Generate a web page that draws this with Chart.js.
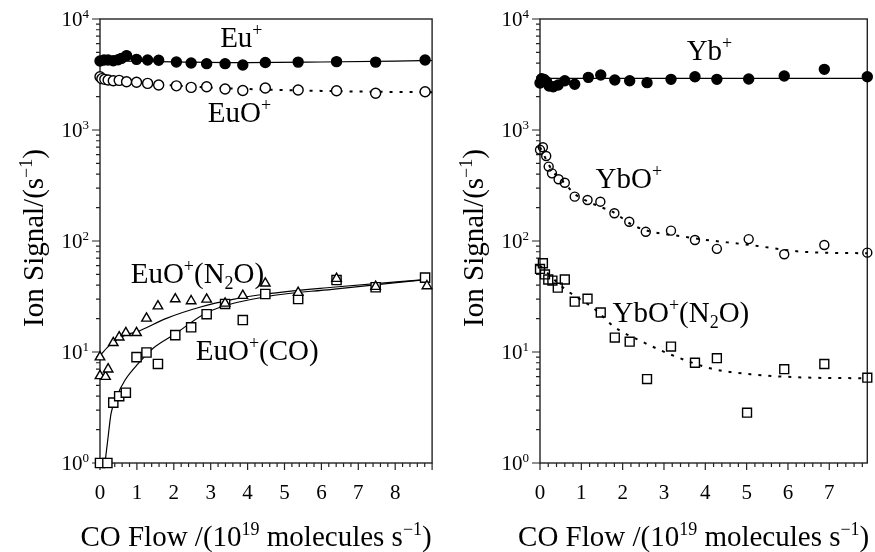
<!DOCTYPE html>
<html>
<head>
<meta charset="utf-8">
<script src="https://cdn.jsdelivr.net/npm/chart.js@4.4.0/dist/chart.umd.min.js"></script>
<style>
  html, body { margin: 0; padding: 0; background: #fff; }
  #wrap { position: relative; width: 875px; height: 552px; overflow: hidden; }
  canvas { position: absolute; top: 0; }
  #left { left: 0; }
  #right { left: 440px; }
</style>
</head>
<body>
<div id="wrap">
  <canvas id="left" width="440" height="552"></canvas>
  <canvas id="right" width="435" height="552"></canvas>
</div>
<script>
// ---- left panel (Eu) ----
const euX = [0, 0.11, 0.22, 0.36, 0.49, 0.58, 0.72, 0.99, 1.29, 1.59, 2.07, 2.47, 2.89, 3.39, 3.87, 4.48, 5.37, 6.41, 7.47, 8.81];
const euPlus = [4190, 4270, 4270, 4210, 4300, 4420, 4680, 4330, 4270, 4250, 4100, 4020, 3960, 3960, 3850, 4050, 4090, 4130, 4090, 4270];
const euOX = [0, 0.05, 0.13, 0.22, 0.36, 0.52, 0.72, 0.99, 1.29, 1.59, 2.07, 2.47, 2.89, 3.39, 3.87, 4.48, 5.37, 6.41, 7.47, 8.81];
const euO = [3020, 2900, 2860, 2820, 2780, 2800, 2720, 2690, 2630, 2540, 2500, 2420, 2450, 2340, 2270, 2390, 2290, 2260, 2140, 2210];
const euN2OX = [0, 0, 0.15, 0.22, 0.36, 0.52, 0.70, 0.99, 1.26, 1.57, 2.04, 2.47, 2.89, 3.39, 3.87, 4.48, 5.37, 6.41, 7.47, 8.86];
const euON2O = [9.0, 6.1, 6.0, 7.0, 12.1, 13.6, 14.9, 14.9, 20.1, 25.9, 30.0, 28.8, 29.8, 27.4, 32.2, 41.6, 34.3, 45.8, 38.8, 39.3];
const euCOX = [0, 0.2, 0.36, 0.52, 0.70, 0.99, 1.26, 1.57, 2.04, 2.47, 2.89, 3.39, 3.87, 4.48, 5.37, 6.41, 7.47, 8.81];
const euOCO = [1, 1, 3.5, 4.0, 4.3, 9.0, 9.9, 7.8, 14.2, 16.7, 21.9, 27.1, 19.4, 33.3, 30.0, 44.5, 38.3, 46.8];

// fitted curves
const euFitX = [0, 2, 4, 6, 8, 9];
const euFit = [4200, 4110, 4050, 4100, 4180, 4230];
const euOFitX = [0, 1, 2, 3, 4, 5, 6, 7, 8, 9];
const euOFit = [2900, 2680, 2520, 2410, 2340, 2290, 2250, 2220, 2200, 2190];
const n2oFitX = [0, 0.27, 0.68, 1.0, 1.8, 2.7, 3.6, 4.5, 6.3, 8.9];
const n2oFit = [9.3, 11.6, 14.2, 15.2, 20.1, 25.3, 29.8, 33.3, 38.3, 45.2];
const coFitX = [0.135, 0.21, 0.30, 0.45, 0.68, 1.04, 1.44, 2.03, 2.89, 4.5, 6.29, 8.9];
const coFit = [1.0, 1.61, 2.8, 3.96, 5.6, 7.9, 10.8, 14.5, 22.6, 31.5, 36.7, 45.2];

// ---- right panel (Yb) ----
const ybX = [0, 0.04, 0.10, 0.16, 0.22, 0.32, 0.44, 0.60, 0.84, 1.17, 1.47, 1.81, 2.17, 2.59, 3.17, 3.75, 4.28, 5.05, 5.91, 6.88, 7.92];
const ybPlus = [2650, 2900, 2850, 2720, 2490, 2455, 2540, 2780, 2580, 2980, 3130, 2820, 2780, 2670, 2860, 3020, 2860, 2880, 3065, 3520, 3020];
const ybOX = [0, 0.07, 0.15, 0.21, 0.29, 0.45, 0.60, 0.84, 1.15, 1.46, 1.80, 2.16, 2.56, 3.17, 3.75, 4.28, 5.05, 5.91, 6.88, 7.92];
const ybO = [663, 699, 583, 468, 407, 360, 335, 251, 234, 226, 178, 149, 121, 124, 102, 85, 104, 76, 92, 78.5];
const ybN2OX = [0, 0.07, 0.12, 0.2, 0.3, 0.43, 0.6, 0.84, 1.15, 1.47, 1.81, 2.17, 2.59, 3.17, 3.75, 4.28, 5.01, 5.91, 6.88, 7.92];
const ybON2O = [56, 63, 50, 45, 44, 38, 45, 28.4, 30.2, 22.7, 13.5, 12.4, 5.7, 11.2, 8.0, 8.8, 2.84, 7.0, 7.8, 5.87];

const ybFitX = [0, 7.92];
const ybFit = [2920, 2920];
const ybOFitX = [0, 0.3, 0.6, 0.84, 1.15, 1.44, 1.75, 2.31, 3.5, 5.09, 6.36, 7.92];
const ybOFit = [700, 430, 330, 265, 228, 204, 184, 135, 109, 92, 80, 77.5];
const ybN2OFitX = [0, 0.56, 1.35, 1.79, 2.47, 3.19, 4.14, 5.09, 6.36, 7.92];
const ybN2OFit = [60, 38, 23.9, 16.9, 12.4, 9.4, 7.1, 6.3, 5.9, 5.8];

// tick labels
const leftXTicks = [0, 1, 2, 3, 4, 5, 6, 7, 8];
const rightXTicks = [0, 1, 2, 3, 4, 5, 6, 7];
const yTicks = [1, 10, 100, 1000, 10000];
const yTickExp = ['0', '1', '2', '3', '4'];

const SERIF = '"Liberation Serif", "Times New Roman", serif';

const pts = (xs, ys) => xs.map((x, i) => ({ x: x, y: ys[i] }));

const marks = (data, style, fill, r) => ({
    data: data,
    showLine: false,
    pointStyle: style,
    pointRadius: r,
    pointHoverRadius: r,
    pointBackgroundColor: fill,
    pointBorderColor: '#000',
    pointBorderWidth: 1.4,
    clip: false
});

const fit = (data, dash) => ({
    data: data,
    showLine: true,
    pointRadius: 0,
    borderColor: '#000',
    borderWidth: dash ? 2 : 1.2,
    borderDash: dash ? [3, 7] : [],
    cubicInterpolationMode: 'monotone',
    clip: false
});

const richWidth = (ctx, parts, size) => {
    let w = 0;
    parts.forEach((p) => {
        ctx.font = (p[1] ? size * 0.62 : size) + 'px ' + SERIF;
        w += ctx.measureText(p[0]).width;
    });
    return w;
};

const drawRich = (ctx, parts, x, y, size, align) => {
    const w = richWidth(ctx, parts, size);
    let cx = align === 'center' ? x - w / 2 : (align === 'right' ? x - w : x);
    ctx.textAlign = 'left';
    ctx.textBaseline = 'alphabetic';
    parts.forEach((p) => {
        const s = p[1] ? size * 0.62 : size;
        ctx.font = s + 'px ' + SERIF;
        let dy = 0;
        if (p[1] === 'sup') dy = -size * 0.38;
        if (p[1] === 'sub') dy = size * 0.2;
        ctx.fillText(p[0], cx, y + dy);
        cx += ctx.measureText(p[0]).width;
    });
};

const framePlugin = {
    id: 'frame',
    beforeDatasetsDraw(chart, args, opts) {
        const { ctx, chartArea: a } = chart;
        const xs = chart.scales.x;
        const ys = chart.scales.y;
        ctx.save();
        ctx.strokeStyle = '#222';
        ctx.lineWidth = 1.4;
        ctx.strokeRect(a.left, a.top, a.right - a.left, a.bottom - a.top);

        ctx.lineWidth = 1.2;
        ctx.beginPath();
        const steps = Math.floor(xs.max / 0.2 + 1e-6);
        for (let i = 0; i <= steps; i++) {
            const px = xs.getPixelForValue(i * 0.2);
            const len = i % 5 === 0 ? 7 : 4;
            ctx.moveTo(px, a.bottom);
            ctx.lineTo(px, a.bottom + len);
        }
        yTicks.forEach((t, k) => {
            const py = ys.getPixelForValue(t);
            ctx.moveTo(a.left, py);
            ctx.lineTo(a.left - 8, py);
            if (k < yTicks.length - 1) {
                for (let m = 2; m <= 9; m++) {
                    const pm = ys.getPixelForValue(t * m);
                    ctx.moveTo(a.left, pm);
                    ctx.lineTo(a.left - 4, pm);
                }
            }
        });
        ctx.stroke();
        ctx.restore();
    },
    afterDraw(chart, args, opts) {
        const { ctx, chartArea: a } = chart;
        const xs = chart.scales.x;
        const ys = chart.scales.y;
        ctx.save();
        ctx.fillStyle = '#000';

        // tick labels
        ctx.font = '21px ' + SERIF;
        ctx.textAlign = 'center';
        ctx.textBaseline = 'middle';
        opts.xLabels.forEach((t) => {
            ctx.fillText(String(t), xs.getPixelForValue(t), a.bottom + 30);
        });
        yTicks.forEach((t, k) => {
            drawRich(ctx, [['10'], [yTickExp[k], 'sup']], a.left - 11, ys.getPixelForValue(t) + 7, 21, 'right');
        });

        // axis titles
        const cx = (a.left + a.right) / 2 - 10;
        drawRich(ctx, [['CO Flow /(10'], ['19', 'sup'], [' molecules s'], ['\u22121', 'sup'], [')']], cx, 546, 29, 'center');
        ctx.save();
        ctx.translate(33, (a.top + a.bottom) / 2 - 3);
        ctx.rotate(-Math.PI / 2);
        drawRich(ctx, [['Ion Signal/(s'], ['\u22121', 'sup'], [')']], 0, 10, 29, 'center');
        ctx.restore();

        // series names
        opts.notes.forEach((n) => {
            drawRich(ctx, n.parts, xs.getPixelForValue(n.x), ys.getPixelForValue(n.y) + 10, 29, 'center');
        });
        ctx.restore();
    }
};

const makePanel = (id, xMax, datasets, xLabels, notes, pad) => {
    new Chart(document.getElementById(id), {
        type: 'scatter',
        data: { datasets: datasets },
        options: {
            responsive: false,
            animation: false,
            devicePixelRatio: 1,
            layout: { padding: pad },
            plugins: {
                legend: { display: false },
                tooltip: { enabled: false },
                frame: { xLabels: xLabels, notes: notes }
            },
            scales: {
                x: { type: 'linear', min: 0, max: xMax, display: false },
                y: { type: 'logarithmic', min: 1, max: 10000, display: false }
            }
        },
        plugins: [framePlugin]
    });
};

makePanel('left', 9, [
    marks(pts(euX, euPlus), 'circle', '#000', 5),
    marks(pts(euOX, euO), 'circle', '#fff', 5),
    marks(pts(euN2OX, euON2O), 'triangle', '#fff', 5.5),
    marks(pts(euCOX, euOCO), 'rect', '#fff', 6.5),
    fit(pts(euFitX, euFit), false),
    fit(pts(euOFitX, euOFit), true),
    fit(pts(n2oFitX, n2oFit), false),
    fit(pts(coFitX, coFit), false)
], leftXTicks, [
    { parts: [['Eu'], ['+', 'sup']], x: 3.83, y: 6900 },
    { parts: [['EuO'], ['+', 'sup']], x: 3.78, y: 1450 },
    { parts: [['EuO'], ['+', 'sup'], ['(N'], ['2', 'sub'], ['O)']], x: 2.64, y: 51.5 },
    { parts: [['EuO'], ['+', 'sup'], ['(CO)']], x: 4.26, y: 10.4 }
], { left: 100, right: 7, top: 19, bottom: 89 });

makePanel('right', 7.92, [
    marks(pts(ybX, ybPlus), 'circle', '#000', 5),
    marks(pts(ybOX, ybO), 'circle', 'rgba(0,0,0,0)', 4.5),
    marks(pts(ybN2OX, ybON2O), 'rect', 'rgba(0,0,0,0)', 6.3),
    fit(pts(ybFitX, ybFit), false),
    fit(pts(ybOFitX, ybOFit), true),
    fit(pts(ybN2OFitX, ybN2OFit), true)
], rightXTicks, [
    { parts: [['Yb'], ['+', 'sup']], x: 4.10, y: 5260 },
    { parts: [['YbO'], ['+', 'sup']], x: 2.15, y: 370 },
    { parts: [['YbO'], ['+', 'sup'], ['(N'], ['2', 'sub'], ['O)']], x: 3.41, y: 22.9 }
], { left: 100, right: 3, top: 19, bottom: 89 });
</script>
</body>
</html>
